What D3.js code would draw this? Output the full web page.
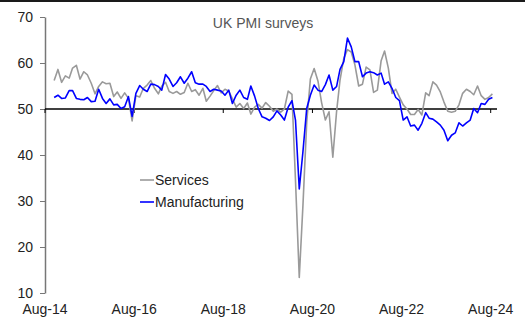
<!DOCTYPE html>
<html>
<head>
<meta charset="utf-8">
<script src="https://cdn.jsdelivr.net/npm/d3@7"></script>
<style>
body { margin:0; background:#fff; }
text { font-family: Arial, "Liberation Sans", sans-serif; }
</style>
</head>
<body>
<svg id="chart"></svg>
<script>
// monthly readings, first one is Oct-14, last one Aug-24
var firstMonth = new Date(2014, 9, 15);

var services = [
  56.2, 58.6, 55.8,
  57.2, 56.7, 58.9, 59.5, 56.5, 58.1, 57.4, 55.6, 53.3, 54.9, 55.9, 55.5,
  55.6, 52.7, 53.7, 52.3, 53.5, 52.3, 47.4, 52.9, 52.6, 54.5, 55.2, 56.2,
  54.5, 53.3, 55.0, 55.8, 53.8, 53.4, 53.8, 53.2, 53.6, 55.6, 53.8, 54.2,
  53.0, 54.5, 51.7, 52.8, 54.0, 55.1, 53.5, 54.3, 53.9, 52.2, 50.4, 51.2,
  50.1, 51.3, 48.9, 50.4, 51.0, 50.2, 51.4, 50.6, 49.5, 50.0, 49.3, 50.0,
  53.9, 53.2, 34.5, 13.4, 29.0, 47.1, 56.5, 58.8, 56.1, 51.4, 47.6, 49.4,
  39.5, 49.5, 56.3, 61.0, 62.9, 62.4, 59.6, 55.0, 55.4, 59.1, 58.5, 53.6,
  54.1, 60.5, 62.6, 58.9, 53.4, 54.3, 52.6, 50.9, 50.0, 48.8, 48.8, 49.9,
  48.7, 53.5, 52.9, 55.9, 55.2, 53.7, 51.5, 49.5, 49.3, 49.5, 50.9, 53.4,
  54.3, 53.8, 53.1, 55.0, 52.9, 52.1, 52.5, 53.3
];

var manufacturing = [
  52.5, 53.0, 52.3,
  52.4, 54.0, 54.0, 52.3, 52.1, 52.0, 52.5, 51.6, 51.7, 54.3, 52.3, 51.2,
  52.2, 50.9, 51.0, 50.1, 50.5, 52.7, 48.4, 53.4, 55.1, 54.3, 53.8, 55.4,
  55.3, 54.9, 54.1, 57.5, 56.5, 54.9, 55.7, 57.0, 55.6, 56.7, 58.1, 55.7,
  55.4, 55.4, 54.9, 53.8, 54.3, 54.1, 53.9, 53.0, 54.1, 51.2, 53.0, 54.1,
  52.5, 52.1, 55.0, 52.8, 50.1, 48.3, 48.0, 47.5, 48.3, 49.6, 48.7, 47.6,
  50.4, 51.8, 47.6, 32.6, 40.7, 50.1, 53.0, 55.2, 54.1, 53.8, 55.3, 57.4,
  54.1, 54.9, 58.6, 60.3, 65.4, 63.5, 60.3, 60.3, 57.0, 57.8, 58.1, 57.9,
  57.4, 57.8, 55.4, 55.9, 54.5, 52.5, 51.8, 47.6, 48.3, 46.3, 46.5, 45.4,
  46.9, 49.2, 48.0, 47.8, 47.2, 46.5, 45.4, 43.1, 44.3, 44.8, 47.0, 46.3,
  47.0, 47.6, 50.1, 49.2, 51.2, 51.0, 52.1, 52.5
];

var xTickLabels = ["Aug-14", "Aug-16", "Aug-18", "Aug-20", "Aug-22", "Aug-24"];
var yTicks = [10, 20, 30, 40, 50, 60, 70];
var seriesNames = ["Services", "Manufacturing"];
var seriesColors = ["#9a9a9a", "#0000ff"];

var screen = {width:525, height:327};
var margins = {top:17, bottom:34, left:45, right:34.3};

var svg = d3.select("#chart")
    .attr("width", screen.width)
    .attr("height", screen.height);

var xScale = d3.scaleTime()
    .domain([new Date(2014, 7, 1), new Date(2024, 7, 1)])
    .range([margins.left, screen.width - margins.right]);

var yScale = d3.scaleLinear()
    .domain([10, 70])
    .range([screen.height - margins.bottom, margins.top]);

var parseTick = d3.timeParse("%b-%y");

// top rule
svg.append("line")
    .attr("x1", 0).attr("x2", screen.width)
    .attr("y1", 1).attr("y2", 1)
    .style("stroke", "#1a1a1a")
    .style("stroke-width", 2);

// y axis
var yAxis = svg.append("g")
    .attr("transform", "translate(" + margins.left + ",0)")
    .call(d3.axisLeft(yScale).tickValues(yTicks).tickSize(5).tickPadding(7).tickSizeOuter(0));
yAxis.select(".domain").style("stroke", "#777").style("stroke-width", 1.5);
yAxis.selectAll(".tick line").style("stroke", "#777");
yAxis.selectAll("text")
    .style("font-size", "14px")
    .style("fill", "#222")
    .style("font-family", "Arial, 'Liberation Sans', sans-serif");

// x labels along the bottom
svg.selectAll(".xlabel")
    .data(xTickLabels)
    .enter()
    .append("text")
    .attr("class", "xlabel")
    .attr("x", function(d){ return xScale(parseTick(d)); })
    .attr("y", 314)
    .attr("text-anchor", "middle")
    .style("font-size", "14px")
    .style("fill", "#222")
    .text(function(d){ return d; });

// the 50 line acts as the x axis
svg.append("line")
    .attr("x1", margins.left).attr("x2", 497)
    .attr("y1", yScale(50)).attr("y2", yScale(50))
    .style("stroke", "#000")
    .style("stroke-width", 1.3);

svg.selectAll(".xtick")
    .data(xTickLabels)
    .enter()
    .append("line")
    .attr("class", "xtick")
    .attr("x1", function(d){ return xScale(parseTick(d)); })
    .attr("x2", function(d){ return xScale(parseTick(d)); })
    .attr("y1", yScale(50))
    .attr("y2", yScale(50) + 4)
    .style("stroke", "#000");

// series
var makePoints = function(values)
{
    return values.map(function(v, i){ return {date: d3.timeMonth.offset(firstMonth, i), value: v}; });
}

var line = d3.line()
    .x(function(d){ return xScale(d.date); })
    .y(function(d){ return yScale(d.value); });

[services, manufacturing].forEach(function(values, k)
{
    svg.append("path")
        .datum(makePoints(values))
        .attr("d", line)
        .style("fill", "none")
        .style("stroke", seriesColors[k])
        .style("stroke-width", 1.6)
        .style("stroke-linejoin", "round");
});

// title
svg.append("text")
    .attr("x", 263)
    .attr("y", 28)
    .attr("text-anchor", "middle")
    .style("font-size", "14px")
    .style("fill", "#555")
    .text("UK PMI surveys");

// legend
var legend = svg.selectAll(".legend")
    .data(seriesNames)
    .enter()
    .append("g")
    .attr("class", "legend")
    .attr("transform", function(d, i){ return "translate(140," + (180 + i * 22) + ")"; });

legend.append("line")
    .attr("x1", 0).attr("x2", 14)
    .attr("y1", 0).attr("y2", 0)
    .style("stroke", function(d, i){ return seriesColors[i]; })
    .style("stroke-width", 1.6);

legend.append("text")
    .attr("x", 15)
    .attr("y", 5)
    .style("font-size", "14px")
    .style("fill", "#222")
    .text(function(d){ return d; });
</script>
</body>
</html>
